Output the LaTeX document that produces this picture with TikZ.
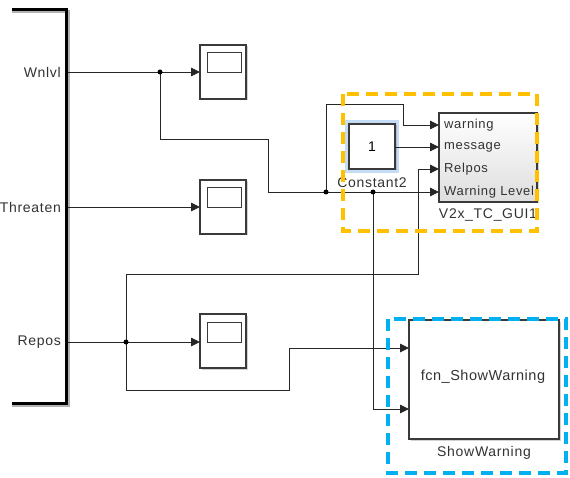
\documentclass[tikz,border=0pt]{standalone}
\usepackage{fontspec}
\setmainfont{Liberation Sans}
\newfontfamily\simfont[LetterSpace=5]{Liberation Sans}
\newfontfamily\simfontb[LetterSpace=3.5]{Liberation Sans}
\usetikzlibrary{arrows.meta,calc,shadows}
\definecolor{orangebox}{HTML}{FFC000}
\definecolor{bluebox}{HTML}{00B0F0}
\definecolor{halo}{HTML}{C4DCF6}
\definecolor{edge}{HTML}{3A3A3A}
\begin{document}
\begin{tikzpicture}[x=1pt,y=-1pt,
  wire/.style={draw=black!85, line width=0.9pt},
  arr/.style={wire, -{Triangle[length=9pt,width=8.5pt]}},
  junc/.style={circle, fill=black, inner sep=0pt, minimum size=5pt},
  blk/.style={draw=edge, line width=1.1pt, fill=white, inner sep=0pt, outer sep=0pt,
    drop shadow={shadow xshift=1.5pt, shadow yshift=-1.5pt, opacity=0.35, fill=black!50}},
  scopebox/.style={blk, minimum width=46pt, minimum height=54pt,
    path picture={\draw[edge, line width=1pt] ($(path picture bounding box.north west)+(7pt,-8pt)$) rectangle ($(path picture bounding box.north east)+(-5pt,-28pt)$);}},
  lbl/.style={font=\simfont\fontsize{14}{16}\selectfont, text=black!80, inner sep=0pt},
  plbl/.style={font=\simfont\fontsize{13}{15}\selectfont, text=black!80, inner sep=0pt, anchor=west},
  hilite/.style={line width=4pt, dash pattern=on 12pt off 7pt}
]
\clip (0,0) rectangle (570,478);
\fill[white] (0,0) rectangle (570,478);

% bus block
\draw[black!30, line width=3pt] (12,12) -| (68,405) -- (12,405);
\draw[black, line width=3pt, line join=miter] (12,10) -| (66,403) -- (12,403);
\coordinate (bWn) at (67.5,72);
\coordinate (bTh) at (67.5,207);
\coordinate (bRe) at (67.5,342);
\node[lbl, anchor=east] (tWn) at (61,72) {Wnlvl};
\node[lbl, anchor=east] (tTh) at (61,207) {Threaten};
\node[lbl, anchor=east] (tRe) at (61,342) {Repos};

% scopes
\node[scopebox] (s1) at (223,72) {};
\node[scopebox] (s2) at (223,207) {};
\node[scopebox] (s3) at (223,341) {};

% constant with highlight
\fill[halo] (345,120) rectangle (399,173);
\node[blk, line width=1.6pt, minimum width=46pt, minimum height=45pt] (c2) at (372,146.5) {\fontsize{14}{16}\selectfont 1};
\node[lbl] (c2l) at (372,183) {Constant2};

% V2x block
\node[blk, top color=white, bottom color=black!13, minimum width=98pt, minimum height=89pt] (gui) at (488,157.5) {};
\coordinate (pWarn) at (gui.west |- 0,125);
\coordinate (pMsg) at (gui.west |- 0,147);
\coordinate (pRel) at (gui.west |- 0,169);
\coordinate (pWL) at (gui.west |- 0,192);
\node[plbl] (lWarn) at (444,125) {warning};
\node[plbl] (lMsg) at (444,147) {message};
\node[plbl] (lRel) at (444,169) {Relpos};
\node[plbl] (lWL) at (444,192) {Warning Level};
\node[lbl] (guil) at (488,215) {V2x\_TC\_GUI1};

% ShowWarning block
\node[blk, minimum width=150pt, minimum height=119pt] (sw) at (484,379.5) {};
\node[lbl, font=\simfontb\fontsize{14.5}{16}\selectfont] (swt) at (483,377) {fcn\_ShowWarning};
\node[lbl] (swl) at (484,453) {ShowWarning};
\coordinate (pSw1) at (sw.west |- 0,348);
\coordinate (pSw2) at (sw.west |- 0,409);

% junctions
\coordinate (j1) at (160,72);
\coordinate (j2) at (326,192);
\coordinate (j3) at (373,192);
\coordinate (j4) at (126,342);
\coordinate (k1) at (268,139);
\coordinate (k2) at (403,104);
\coordinate (k3) at (418,274);
\coordinate (k4) at (289,390);

% wires
\draw[arr] (bWn) -- (s1.west |- bWn);
\draw[arr] (bTh) -- (s2.west |- bTh);
\draw[arr] (bRe) -- (s3.west |- bRe);
\draw[arr] (j1) |- (k1) |- (pWL);
\draw[arr] (j2) |- (k2) |- (pWarn);
\draw[arr] (c2.east |- pMsg) -- (pMsg);
\draw[arr] (j3) |- (pSw2);
\draw[arr] (j4) |- (k3) |- (pRel);
\draw[arr] (j4) |- (k4) |- (pSw1);
\foreach \j in {j1,j2,j3,j4} \node[junc] at (\j) {};

% highlight boxes
\draw[orangebox, hilite] (343,94) rectangle (537,231);
\draw[bluebox, hilite] (388,319) rectangle (566,473);
\end{tikzpicture}
\end{document}
